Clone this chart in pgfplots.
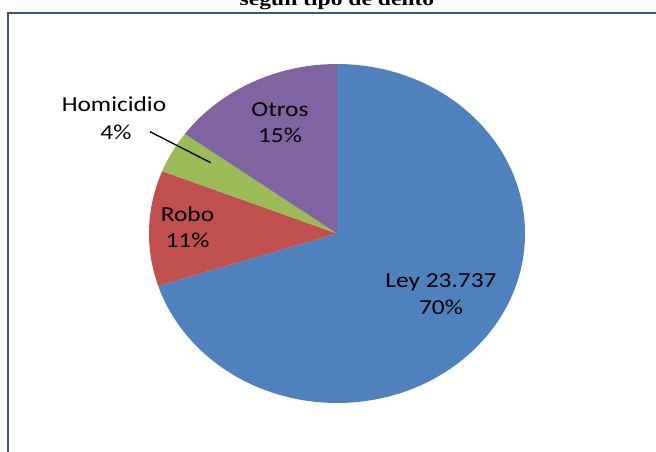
\documentclass[border=0pt]{standalone}
\usepackage{pgfplots}
\usepackage{pgfplotstable}
\pgfplotsset{compat=1.18}
\usepackage{fontspec}
\setmainfont{Carlito}
\newfontfamily\titlefont{Liberation Serif}

\definecolor{ley}{RGB}{79,129,189}
\definecolor{robo}{RGB}{192,80,77}
\definecolor{homi}{RGB}{155,187,89}
\definecolor{otros}{RGB}{128,100,162}
\definecolor{frame}{RGB}{56,88,134}

% share of cases by type of offence (percent), clockwise from 12 o'clock
\pgfplotstableread{
name value color
Ley 70 ley
Robo 11 robo
Homicidio 4 homi
Otros 15 otros
}\piedata

\newcommand{\lbl}[1]{\scalebox{1.19}[1]{#1}}

\begin{document}
\begin{tikzpicture}
\begin{axis}[
  scale only axis, width=492pt, height=339pt,
  xmin=0, xmax=656, ymin=0, ymax=452,
  hide axis, clip=false,
]
% frame (left and top sides only are visible)
\draw[frame, line width=0.8pt] (axis cs:8,0) -- (axis cs:8,439) -- (axis cs:656,439);

% slices: centre (337,218.5), radii 188 x 169.5 px -> 141pt x 127.1pt
\pgfplotstablegetrowsof{\piedata}
\pgfmathtruncatemacro\lastrow{\pgfplotsretval-1}
\gdef\curang{90}
\pgfplotsforeachungrouped \i in {0,...,\lastrow}{
  \pgfplotstablegetelem{\i}{value}\of\piedata \let\sval\pgfplotsretval
  \pgfplotstablegetelem{\i}{color}\of\piedata \let\scol\pgfplotsretval
  \pgfmathsetmacro\endang{\curang-3.6*\sval}
  \edef\temp{\noexpand\fill[\scol] (axis cs:337,218.5) -- ++(\curang:141pt and 127.1pt)
    arc[start angle=\curang, end angle=\endang, x radius=141pt, y radius=127.1pt] -- cycle;}
  \temp
  \global\let\curang\endang
}

% leader line for Homicidio
\draw[black, line width=1pt] (axis cs:150,320.3) -- (axis cs:210.7,289.3);

\begin{scope}[every node/.style={anchor=base, inner sep=0pt, font=\fontsize{16}{19}\selectfont, text=black}]
\node at (axis cs:441,164) {\lbl{Ley 23.737}};
\node at (axis cs:441,137) {\lbl{70\%}};
\node at (axis cs:187.5,230.3) {\lbl{Robo}};
\node at (axis cs:187.5,204) {\lbl{11\%}};
\node at (axis cs:280,335.3) {\lbl{Otros}};
\node at (axis cs:280,309) {\lbl{15\%}};
\node at (axis cs:114,340.3) {\lbl{Homicidio}};
\node at (axis cs:116,312) {\lbl{4\%}};
\end{scope}

% title, cut off by the top edge
\node[anchor=base, inner sep=0pt, font=\titlefont\bfseries\fontsize{14.5}{17}\selectfont]
  at (axis cs:337,446) {\scalebox{1.22}[1]{según tipo de delito}};
\end{axis}
\pgfresetboundingbox
\useasboundingbox (current axis.south west) rectangle (current axis.north east);
\end{tikzpicture}
\end{document}
